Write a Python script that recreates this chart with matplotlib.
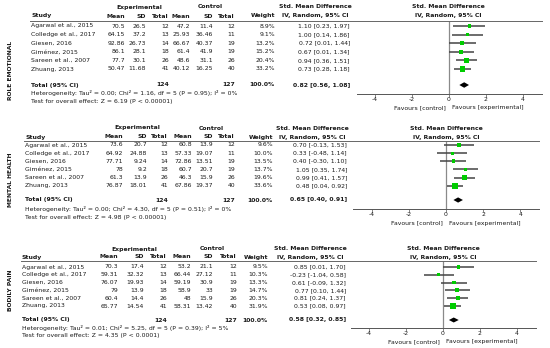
import numpy as np
import matplotlib
matplotlib.use("Agg")
import matplotlib.pyplot as plt
from matplotlib.transforms import Affine2D, blended_transform_factory
from matplotlib.lines import Line2D

# - - - - - - - - - - - - - - - - data - - - - - - - - - - - - - - - - #
studies = ["Agarwal et al., 2015", "Colledge et al., 2017", "Giesen, 2016",
           "Giménez, 2015", "Sareen et al., 2007", "Zhuang, 2013"]
exp_n = [12, 13, 14, 18, 26, 41]
ctl_n = [12, 11, 19, 19, 26, 40]

# role emotional
re_exp_mean = [70.5, 64.15, 92.86, 86.1, 77.7, 50.47]
re_exp_sd = [26.5, 37.2, 26.73, 28.1, 30.1, 11.68]
re_ctl_mean = [47.2, 25.93, 66.67, 61.4, 48.6, 40.12]
re_ctl_sd = [11.4, 36.46, 40.37, 41.9, 31.1, 16.25]
re_weight = [8.9, 9.1, 13.2, 15.2, 20.4, 33.2]
re_smd = [1.10, 1.00, 0.72, 0.67, 0.94, 0.73]
re_lo = [0.23, 0.14, 0.01, 0.01, 0.36, 0.28]
re_hi = [1.97, 1.86, 1.44, 1.34, 1.51, 1.18]
re_total = (0.82, 0.56, 1.08)
re_het = "Heterogeneity: Tau² = 0.00; Chi² = 1.16, df = 5 (P = 0.95); I² = 0%"
re_test = "Test for overall effect: Z = 6.19 (P < 0.00001)"

# mental health
mh_exp_mean = [73.6, 64.92, 77.71, 78, 61.3, 76.87]
mh_exp_sd = [20.7, 24.88, 9.24, 9.2, 13.9, 18.01]
mh_ctl_mean = [60.8, 57.33, 72.86, 60.7, 46.3, 67.86]
mh_ctl_sd = [13.9, 19.07, 13.51, 20.7, 15.9, 19.37]
mh_weight = [9.6, 10.0, 13.5, 13.7, 19.6, 33.6]
mh_smd = [0.70, 0.33, 0.40, 1.05, 0.99, 0.48]
mh_lo = [-0.13, -0.48, -0.30, 0.35, 0.41, 0.04]
mh_hi = [1.53, 1.14, 1.10, 1.74, 1.57, 0.92]
mh_total = (0.65, 0.40, 0.91)
mh_het = "Heterogeneity: Tau² = 0.00; Chi² = 4.30, df = 5 (P = 0.51); I² = 0%"
mh_test = "Test for overall effect: Z = 4.98 (P < 0.00001)"

# bodily pain
bp_exp_mean = [70.3, 59.31, 76.07, 79, 60.4, 65.77]
bp_exp_sd = [17.4, 32.32, 19.93, 13.9, 14.4, 14.54]
bp_ctl_mean = [53.2, 66.44, 59.19, 58.9, 48, 58.31]
bp_ctl_sd = [21.1, 27.12, 30.9, 33, 15.9, 13.42]
bp_weight = [9.5, 10.3, 13.3, 14.7, 20.3, 31.9]
bp_smd = [0.85, -0.23, 0.61, 0.77, 0.81, 0.53]
bp_lo = [0.01, -1.04, -0.09, 0.10, 0.24, 0.08]
bp_hi = [1.70, 0.58, 1.32, 1.44, 1.37, 0.97]
bp_total = (0.58, 0.32, 0.85)
bp_het = "Heterogeneity: Tau² = 0.01; Chi² = 5.25, df = 5 (P = 0.39); I² = 5%"
bp_test = "Test for overall effect: Z = 4.35 (P < 0.0001)"

ticks = [-4, -2, 0, 2, 4]
# - - - - - - - - - - - - - - - - - - - - - - - - - - - - - - - - - - #

W, H = 550, 348
fig = plt.figure(figsize=(W / 100, H / 100), dpi=100)
fig.patch.set_facecolor("white")
# pixel coords, origin top-left
px = Affine2D().scale(1 / 100, -1 / 100).translate(0, H / 100) + fig.dpi_scale_trans

FS = 4.4
TXT = "#1a1a1a"
GREEN = "#00cc00"


def T(x, y, s, ha="left", bold=False, **kw):
    fig.text(x, y, s, transform=px, ha=ha, va="center", fontsize=FS,
             color=TXT, fontweight="bold" if bold else "normal", **kw)


def panel(lay, label, emean, esd, cmean, csd, weight, smd, lo, hi, total, het, test):
    cx = lay["cols"]
    rows = [lay["r0"] + i * lay["dy"] for i in range(len(studies))]

    # headers
    T((cx["em"] + cx["et"]) / 2 - 8, lay["h1"], "Experimental", ha="center", bold=True)
    T((cx["cm"] + cx["ct"]) / 2 - 2, lay["h1"], "Control", ha="center", bold=True)
    T(lay["smd_c"], lay["h1"], "Std. Mean Difference", ha="center", bold=True)
    T(lay["smd_c"], lay["h2"], "IV, Random, 95% CI", ha="center", bold=True)
    T(lay["fc"], lay["h1"], "Std. Mean Difference", ha="center", bold=True)
    T(lay["fc"], lay["h2"], "IV, Random, 95% CI", ha="center", bold=True)
    T(cx["study"], lay["h2"], "Study", bold=True)
    for key, name in [("em", "Mean"), ("es", "SD"), ("et", "Total"),
                      ("cm", "Mean"), ("cs", "SD"), ("ct", "Total"), ("w", "Weight")]:
        T(cx[key], lay["h2"], name, ha="right", bold=True)
    fig.add_artist(Line2D([cx["study"] - 1, lay["x1"]], [lay["line"], lay["line"]],
                          transform=px, color="#666666", lw=0.7))

    # study rows
    for i, y in enumerate(rows):
        T(cx["study"], y, studies[i])
        T(cx["em"], y, f"{emean[i]:g}", ha="right")
        T(cx["es"], y, f"{esd[i]:g}", ha="right")
        T(cx["et"], y, f"{exp_n[i]}", ha="right")
        T(cx["cm"], y, f"{cmean[i]:g}", ha="right")
        T(cx["cs"], y, f"{csd[i]:g}", ha="right")
        T(cx["ct"], y, f"{ctl_n[i]}", ha="right")
        T(cx["w"], y, f"{weight[i]:.1f}%", ha="right")
        T(cx["smd"], y, f"{smd[i]:.2f} [{lo[i]:.2f}, {hi[i]:.2f}]", ha="right")

    ty = lay["total"]
    T(cx["study"], ty, "Total (95% CI)", bold=True)
    T(cx["et"], ty, f"{sum(exp_n)}", ha="right", bold=True)
    T(cx["ct"], ty, f"{sum(ctl_n)}", ha="right", bold=True)
    T(cx["w"], ty, f"{sum(weight):.1f}%", ha="right", bold=True)
    T(cx["smd"], ty, f"{total[0]:.2f} [{total[1]:.2f}, {total[2]:.2f}]", ha="right", bold=True)
    T(cx["study"], lay["het"], het)
    T(cx["study"], lay["test"], test)

    fig.text(lay["lab_x"], lay["lab_y"], label, transform=px, rotation=90,
             ha="center", va="center", fontsize=4.3, fontweight="bold", color=TXT)

    # forest axes
    x0, x1 = lay["x0"], lay["x1"]
    ax = fig.add_axes([x0 / W, 1 - lay["axis"] / H, (x1 - x0) / W,
                       (lay["axis"] - lay["line"]) / H])
    ax.set_xlim(-5, 5)
    idx = np.arange(len(studies))
    t_idx = (ty - lay["r0"]) / lay["dy"]
    ax.set_ylim((lay["axis"] - lay["r0"]) / lay["dy"], (lay["line"] - lay["r0"]) / lay["dy"])
    ax.patch.set_alpha(0)
    for s in ["top", "left", "right"]:
        ax.spines[s].set_visible(False)
    ax.spines["bottom"].set_color("#555555")
    ax.spines["bottom"].set_linewidth(0.7)
    ax.axvline(0, color="#8a8a8a", lw=0.9, zorder=1)
    ax.hlines(idx, lo, hi, colors="#444444", lw=1.1, zorder=2)
    ax.scatter(smd, idx, marker="s", c=GREEN, linewidths=0,
               s=(4.2 * np.sqrt(np.array(weight) / 33.0)) ** 2, zorder=3)
    dh = 0.32
    ax.fill([total[1], total[0], total[2], total[0]],
            [t_idx, t_idx - dh, t_idx, t_idx + dh], color="black", lw=0, zorder=3)
    ax.set_xticks(ticks)
    ax.set_xticklabels([str(t) for t in ticks])
    ax.tick_params(axis="x", labelsize=FS, length=2, width=0.5, colors="#555555",
                   labelcolor=TXT, pad=0.5)
    ax.set_yticks([])
    fy = blended_transform_factory(ax.transData, px)
    ax.text(-0.15, lay["fav"], "Favours [control]", transform=fy, ha="right",
            va="center", fontsize=FS, color=TXT)
    ax.text(0.15, lay["fav"], "Favours [experimental]", transform=fy, ha="left",
            va="center", fontsize=FS, color=TXT)


cols1 = dict(study=31, em=125, es=146, et=169, cm=190, cs=213, ct=235, w=275, smd=350)
cols2 = dict(study=25, em=123, es=147, et=168, cm=192, cs=213, ct=235, w=273, smd=347)
cols3 = dict(study=22, em=118, es=144, et=167, cm=191, cs=213, ct=237, w=268, smd=346)

lay1 = dict(cols=cols1, h1=7, h2=16, line=21, r0=26, dy=8.6, total=85, het=93, test=101,
            axis=94, x0=356.5, x1=541.5, fav=108, smd_c=315, fc=448, lab_x=11, lab_y=70)
lay2 = dict(cols=cols2, h1=128, h2=137, line=141, r0=145, dy=8.15, total=200, het=209,
            test=217, axis=209, x0=353, x1=539, fav=223, smd_c=312, fc=446, lab_x=11, lab_y=180)
lay3 = dict(cols=cols3, h1=249, h2=257, line=261, r0=267, dy=7.8, total=320, het=328,
            test=336, axis=328, x0=350.5, x1=535.5, fav=342, smd_c=310, fc=443, lab_x=11, lab_y=290)

panel(lay1, "ROLE EMOTIONAL", re_exp_mean, re_exp_sd, re_ctl_mean, re_ctl_sd,
      re_weight, re_smd, re_lo, re_hi, re_total, re_het, re_test)
panel(lay2, "MENTAL HEALTH", mh_exp_mean, mh_exp_sd, mh_ctl_mean, mh_ctl_sd,
      mh_weight, mh_smd, mh_lo, mh_hi, mh_total, mh_het, mh_test)
panel(lay3, "BODILY PAIN", bp_exp_mean, bp_exp_sd, bp_ctl_mean, bp_ctl_sd,
      bp_weight, bp_smd, bp_lo, bp_hi, bp_total, bp_het, bp_test)

fig.savefig("out.png", dpi=100)
